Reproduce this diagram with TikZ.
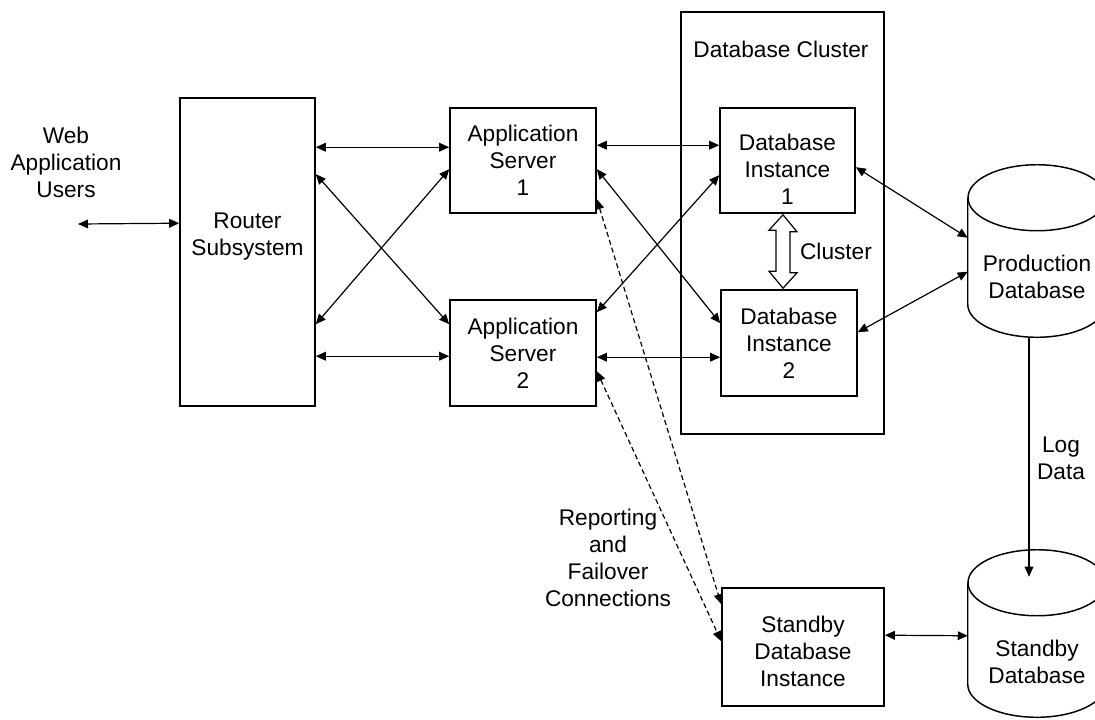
\documentclass[tikz,border=0pt]{standalone}
\usepackage{fontspec}
\setmainfont{Liberation Sans}
\usetikzlibrary{arrows.meta,calc}
\begin{document}
\begin{tikzpicture}[x=0.75pt,y=-0.75pt,
  font=\fontsize{17}{20.25}\selectfont,
  box/.style={draw, line width=1.2pt, inner sep=0pt, align=center},
  holder/.style={inner sep=0pt},
  txt/.style={align=center, inner sep=0pt},
  tip/.tip={Triangle[length=7.5pt,width=6.5pt]},
  link/.style={line width=0.9pt, tip-tip},
  oneway/.style={line width=0.9pt, -tip},
  failover/.style={link, dash pattern=on 3.75pt off 2.4pt},
  cyl/.style={line width=1.1pt},
]
\useasboundingbox (0,0) rectangle (1095,719);
\begin{scope}
\clip (0,0) rectangle (1095,719);

% cluster frame (drawn first, sits behind the instances)
\node[box, minimum width=152.25pt, minimum height=316.5pt] (cluster) at (782.5,223) {};
\node[txt] (clustertitle) at (781,49) {Database Cluster};

% boxes
\node[box, minimum width=101.25pt, minimum height=231pt,
      label={[txt, yshift=11.25pt]center:Router\\Subsystem}] (router) at (247.5,252) {};
\node[box, minimum width=109.5pt, minimum height=78.75pt] (app1) at (523,160.5) {Application\\Server\\1};
\node[box, minimum width=109.5pt, minimum height=79.5pt] (app2) at (523,353) {Application\\Server\\2};
\node[box, minimum width=101.25pt, minimum height=78.75pt,
      label={[txt, yshift=-6.4pt]center:Database\\Instance\\1}] (db1) at (787.5,160.5) {};
\node[box, minimum width=102pt, minimum height=79.5pt] (db2) at (789,343) {Database\\Instance\\2};
\node[box, minimum width=121.5pt, minimum height=88.5pt,
      label={[txt, yshift=-3pt]center:Standby\\Database\\Instance}] (sbi) at (803,647) {};

% database cylinders
\node[holder, minimum width=103.5pt, minimum height=129pt,
      label={[txt, yshift=-19.5pt]center:Production\\Database}] (proddb) at (1037,251) {};
\node[holder, minimum width=103.5pt, minimum height=125.25pt,
      label={[txt, yshift=-21.4pt]center:Standby\\Database}] (standbydb) at (1037,633.5) {};
\foreach \c in {proddb,standbydb}{
  \draw[cyl] ($(\c.north west)+(0,33)$) -- ($(\c.south west)+(0,-33)$)
     arc[start angle=180, end angle=360, x radius=51.75pt, y radius=24.75pt]
     -- ($(\c.north east)+(0,33)$);
  \draw[cyl] ($(\c.north)+(0,33)$) ellipse[x radius=51.75pt, y radius=24.75pt];
}

% users
\node[txt] (users) at (66,162) {Web\\Application\\Users};
\coordinate (usersend) at (78,224);
\draw[link] (usersend) -- ($(router.north west)+(0,126)$);

% router to application servers
\draw[link] ($(router.north east)+(0,50)$) -- ($(app1.north west)+(0,40)$);
\draw[link] ($(router.north east)+(0,77)$) -- ($(app2.north west)+(0,25)$);
\draw[link] ($(router.north east)+(0,227)$) -- ($(app1.north west)+(0,62)$);
\draw[link] ($(router.north east)+(0,259)$) -- ($(app2.north west)+(0,57)$);

% application servers to database instances
\draw[link] ($(app1.north east)+(0,38)$) -- ($(db1.north west)+(0,38)$);
\draw[link] ($(app1.north east)+(0,62)$) -- ($(db2.north west)+(0,34)$);
\draw[link] ($(app2.north east)+(0,13)$) -- ($(db1.north west)+(0,68)$);
\draw[link] ($(app2.north east)+(0,58)$) -- ($(db2.north west)+(0,68)$);

% reporting and failover connections
\draw[failover] ($(app1.north east)+(0,92)$) -- ($(sbi.north west)+(0,17)$);
\draw[failover] ($(app2.north east)+(0,72)$) -- ($(sbi.north west)+(0,54)$);
\node[txt] (failoverlbl) at (608,558) {Reporting\\and\\Failover\\Connections};

% instances to production database
\draw[link] ($(db1.north east)+(0,60)$) -- ($(proddb.north west)+(0,73)$);
\draw[link] ($(db2.north east)+(0,43)$) -- ($(proddb.north west)+(0,107)$);

% cluster interconnect
\coordinate (ctop) at ($(db1.south)+(-4.5,1)$);
\coordinate (cbot) at ($(db2.north)+(-6,-1)$);
\draw[line width=0.9pt, fill=white] (ctop) -- ++(14,17) -- ++(-7,0) -- ++(0,41) -- ++(7,0)
  -- (cbot) -- ++(-14,-17) -- ++(7,0) -- ++(0,-41) -- ++(-7,0) -- cycle;
\node[txt] (clusterlbl) at (836,251) {Cluster};

% log shipping
\draw[oneway] ($(proddb.south)+(-8,0)$) -- ($(standbydb.north)+(-8,27)$);
\node[txt] (loglbl) at (1061,458) {Log\\Data};

% standby instance to standby database
\draw[link] ($(sbi.north east)+(0,48)$) -- ($(standbydb.north west)+(0,86)$);
\end{scope}
\end{tikzpicture}
\end{document}
